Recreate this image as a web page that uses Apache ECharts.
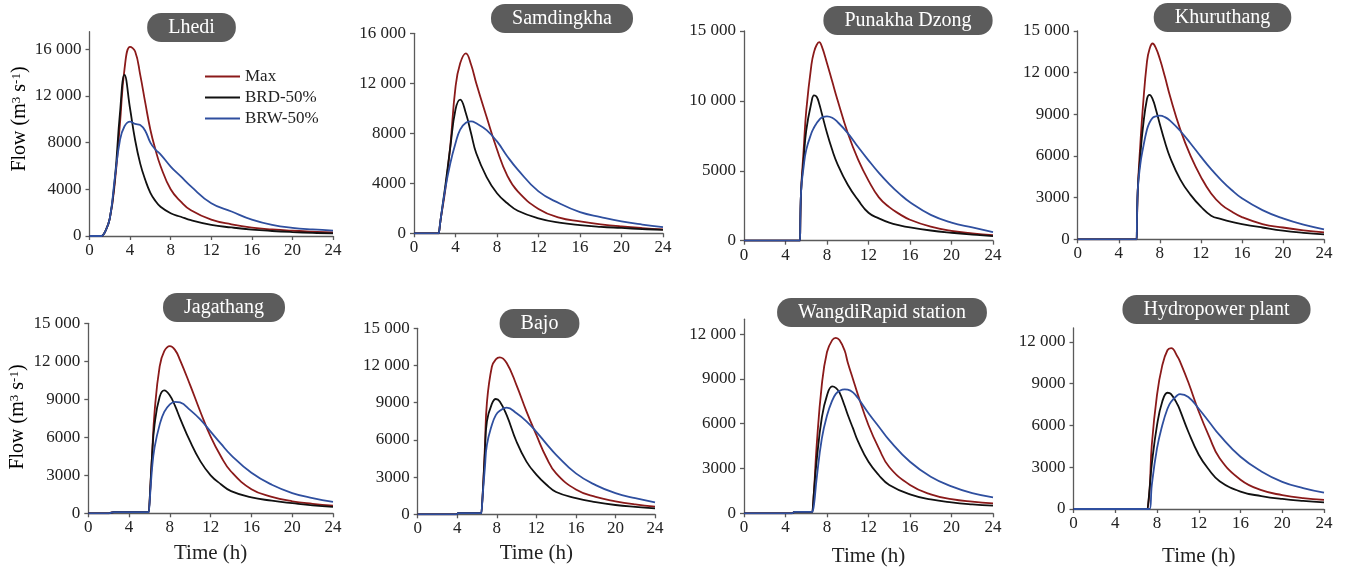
<!DOCTYPE html>
<html>
<head>
<meta charset="utf-8">
<script src="https://cdn.jsdelivr.net/npm/echarts@6/dist/echarts.min.js"></script>
<style>
html,body{margin:0;padding:0;background:#fff;}
#chart{width:1346px;height:570px;}
</style>
</head>
<body>
<div id="chart"></div>
<script>
// ---------- DATA ----------
const stations = ['Lhedi','Samdingkha','Punakha Dzong','Khuruthang','Jagathang','Bajo','WangdiRapid station','Hydropower plant'];
const seriesNames = ['Max','BRD-50%','BRW-50%'];
const xTicks = [0,4,8,12,16,20,24];

// Lhedi
const tLhedi   = [0,1,1.2,1.5,2,2.5,3,3.45,4,4.5,5,5.5,6,6.5,7,8,9,10,12,14,16,18,20,22,24];
const maxLhedi = [0,0,0,300,1500,4600,9600,14300,16200,15800,13800,11400,9100,7400,6000,4000,2950,2200,1400,1000,720,560,450,370,300];
const brdLhedi = [0,0,0,300,1500,4900,10500,13800,10900,8200,6200,4800,3700,3000,2500,1950,1650,1350,950,730,550,430,340,270,220];
const brwLhedi = [0,0,0,300,1500,5000,8200,9400,9800,9600,9500,9000,8000,7400,7000,5950,5100,4250,2800,2100,1400,950,700,560,460];

// Samdingkha
const tSam   = [0,2.4,2.45,2.55,3,3.5,4,4.45,5,5.5,6,7,8,9,10,12,14,16,18,20,22,24];
const maxSam = [0,0,0,1000,3400,7000,11700,13600,14400,13500,12000,9300,6700,4600,3350,1950,1250,950,720,550,420,320];
const brdSam = [0,0,0,1000,3700,6900,9900,10700,9600,8000,6400,4500,3200,2400,1800,1200,850,650,520,430,340,270];
const brwSam = [0,0,0,1000,3500,5600,7200,8300,8850,8950,8800,8250,7350,6150,5100,3350,2400,1700,1300,950,700,500];

// Punakha Dzong
const tPun   = [0,5.4,5.45,5.5,5.75,6,6.5,6.75,7,7.25,7.5,8,8.5,9,10,11,12,13,14,15,16,18,20,22,24];
const maxPun = [0,0,0,3500,6500,9300,12600,13500,14000,14200,13900,12700,11400,10100,7700,5800,4300,3100,2400,1900,1500,1000,700,520,400];
const brdPun = [0,0,0,3500,5800,7900,9900,10400,10300,9800,9100,7700,6500,5500,4000,2900,2000,1600,1300,1100,950,730,570,440,330];
const brwPun = [0,0,0,3500,5300,6500,7700,8100,8400,8650,8800,8900,8800,8500,7700,6700,5750,4850,4050,3350,2750,1850,1300,950,620];

// Khuruthang
const tKhu   = [0,5.75,5.8,5.85,6.1,6.35,6.75,7,7.3,7.6,8,8.5,9,10,11,12,13,14,15,16,18,20,22,24];
const maxKhu = [0,0,0,3500,6800,9500,12800,13700,14100,13800,13000,11700,10300,7900,6000,4500,3300,2500,2000,1600,1100,850,650,500];
const brdKhu = [0,0,0,3500,6000,8000,10100,10400,10100,9400,8300,7000,5900,4300,3200,2350,1700,1450,1250,1100,850,620,470,360];
const brwKhu = [0,0,0,3500,5400,6500,7900,8400,8750,8850,8900,8800,8550,7800,6900,5950,5050,4250,3550,2950,2100,1500,1050,720];

// Jagathang
const tJag   = [0,2,2.5,5.95,6,6.25,6.5,7,7.45,8,8.5,9,10,11,12,13,14,16,18,20,22,24];
const maxJag = [0,0,100,100,100,4500,8000,11600,12800,13200,12900,12100,10100,8000,6050,4500,3300,1900,1300,950,750,600];
const brdJag = [0,0,100,100,100,4500,7000,9200,9700,9300,8500,7500,5650,4100,3000,2300,1750,1250,1000,800,620,500];
const brwJag = [0,0,100,100,100,3500,5200,7000,8000,8600,8800,8750,8150,7400,6450,5500,4600,3200,2250,1600,1200,900];

// Bajo
const tBajo   = [0,3.9,4.1,6.45,6.5,6.6,6.8,7,7.5,7.9,8.3,9,10,11,12,13,14,16,18,20,22,24];
const maxBajo = [0,0,100,100,100,2000,5500,9000,11900,12500,12650,12200,10400,8300,6400,4600,3300,2000,1400,1050,800,620];
const brdBajo = [0,0,100,100,100,2000,5000,7500,8900,9300,9100,8000,5850,4250,3200,2400,1800,1300,980,750,600,480];
const brwBajo = [0,0,100,100,100,1800,3800,5600,7200,8000,8350,8600,8150,7500,6650,5700,4800,3300,2350,1700,1300,970];

// WangdiRapid station
const tWan   = [0,4.6,4.9,6.6,6.65,6.75,7,7.5,8,8.5,8.85,9.2,9.7,10,10.5,11,12,13,14,16,18,20,22,24];
const maxWan = [0,0,100,100,100,1500,4500,8600,10800,11600,11750,11600,10900,10100,9000,7900,5900,4350,3100,1900,1270,950,780,670];
const brdWan = [0,0,100,100,100,1500,3500,6400,7900,8500,8400,8100,7200,6600,5700,4800,3450,2550,1900,1270,930,730,600,510];
const brwWan = [0,0,100,100,100,600,2300,5000,6550,7550,8000,8200,8300,8280,8100,7700,6700,5800,4900,3450,2450,1800,1350,1070];

// Hydropower plant
const tHyd   = [0,7.1,7.15,7.3,7.5,8,8.5,9,9.35,10,10.2,11,12,13,14,16,18,20,22,24];
const maxHyd = [0,0,0,1500,4600,8200,10300,11400,11550,10900,10600,9100,7000,5200,3650,2100,1350,1000,780,650];
const brdHyd = [0,0,0,1500,3200,6000,7700,8350,8250,7450,7100,5550,3900,2800,2000,1250,930,720,580,480];
const brwHyd = [0,0,0,0,1700,4350,6000,7200,7700,8200,8250,8050,7200,6250,5300,3750,2700,1950,1500,1170];

const yTicks1 = [0,4000,8000,12000,16000];
const yTicks2 = [0,4000,8000,12000,16000];
const yTicks3 = [0,5000,10000,15000];
const yTicks4 = [0,3000,6000,9000,12000,15000];
const yTicks7 = [0,3000,6000,9000,12000];

// ---------- LAYOUT ----------
const FONT = 'Liberation Serif';
const panels = [
  {t:tLhedi, s:[maxLhedi,brdLhedi,brwLhedi], left:89.5, top:31.7, width:243.5, height:204.3, max:17500, ticks:yTicks1, tx:191.5, ty:13},
  {t:tSam,   s:[maxSam,brdSam,brwSam],       left:414,  top:33.3, width:249,   height:200,   max:16000, ticks:yTicks2, tx:562,   ty:4},
  {t:tPun,   s:[maxPun,brdPun,brwPun],       left:744,  top:31,   width:249,   height:209.7, max:15000, ticks:yTicks3, tx:908,   ty:6},
  {t:tKhu,   s:[maxKhu,brdKhu,brwKhu],       left:1077.7,top:31,  width:246.3, height:208.3, max:15000, ticks:yTicks4, tx:1222.5,ty:3},
  {t:tJag,   s:[maxJag,brdJag,brwJag],       left:88.3, top:323.3,width:244.7, height:190,   max:15000, ticks:yTicks4, tx:224,   ty:293, gap:30},
  {t:tBajo,  s:[maxBajo,brdBajo,brwBajo],    left:417.7,top:328.3,width:237.3, height:186,   max:15000, ticks:yTicks4, tx:539.5, ty:309, gap:29},
  {t:tWan,   s:[maxWan,brdWan,brwWan],       left:744,  top:319.2,width:249,   height:194.1, max:13000, ticks:yTicks7, tx:882,   ty:298, gap:33},
  {t:tHyd,   s:[maxHyd,brdHyd,brwHyd],       left:1073.5,top:328, width:250.5, height:181,   max:13000, ticks:yTicks7, tx:1216.5,ty:295, gap:37}
];
const colors = ['#8b1a1a','#111111','#2f4f9f'];
const axisColor = '#5a5a5a';
const TITLE_PAD = 21;

function fmt(v){
  const s = String(v);
  return s.length > 4 ? s.slice(0, s.length-3) + ' ' + s.slice(-3) : s;
}

const grid = [], xAxis = [], yAxis = [], series = [], title = [];
panels.forEach((p, i) => {
  grid.push({left:p.left, top:p.top, width:p.width, height:p.height, containLabel:false});
  xAxis.push({
    type:'value', gridIndex:i, min:0, max:24, interval:4,
    axisLine:{show:true, lineStyle:{color:axisColor, width:1.3}},
    axisTick:{show:true, length:4, lineStyle:{color:axisColor, width:1.3}},
    axisLabel:{fontFamily:FONT, fontSize:17, color:'#222', margin:6, customValues:xTicks},
    splitLine:{show:false},
    name: p.gap ? 'Time (h)' : '',
    nameLocation:'middle', nameGap: p.gap || 0,
    nameTextStyle:{fontFamily:FONT, fontSize:21, color:'#222'}
  });
  yAxis.push({
    type:'value', gridIndex:i, min:0, max:p.max,
    axisLine:{show:true, lineStyle:{color:axisColor, width:1.3}},
    axisTick:{show:true, length:4, lineStyle:{color:axisColor, width:1.3}, customValues:p.ticks},
    axisLabel:{fontFamily:FONT, fontSize:17, color:'#222', margin:8, customValues:p.ticks, formatter:fmt},
    splitLine:{show:false}
  });
  title.push({
    text: stations[i], left:p.tx - TITLE_PAD, top:p.ty, textAlign:'center',
    backgroundColor:'#5c5c5c', borderRadius:14, padding:[4,TITLE_PAD,4,TITLE_PAD],
    textStyle:{color:'#ffffff', fontFamily:FONT, fontSize:20, fontWeight:'normal', lineHeight:21}
  });
  p.s.forEach((vals, k) => {
    series.push({
      type:'line', name:seriesNames[k], xAxisIndex:i, yAxisIndex:i,
      data: p.t.map((tt, j) => [tt, vals[j]]),
      symbol:'none', smooth:0.45,
      lineStyle:{color:colors[k], width:1.8}, itemStyle:{color:colors[k]},
      silent:true, animation:false
    });
  });
});

const yName = '{a|Flow (m}{s|3}{a| s}{s|-1}{a|)}';
const yRich = {a:{fontFamily:FONT, fontSize:20, color:'#222'}, s:{fontFamily:FONT, fontSize:13, color:'#222', verticalAlign:'top'}};

const chart = echarts.init(document.getElementById('chart'), null, {renderer:'canvas'});
chart.setOption({
  animation:false,
  backgroundColor:'#ffffff',
  title: title,
  legend:{
    data: seriesNames.map((n, k) => ({name:n, icon:'rect', itemStyle:{color:colors[k]}})),
    orient:'vertical', left:205, top:68, padding:0,
    itemWidth:35, itemHeight:2, itemGap:4,
    textStyle:{fontFamily:FONT, fontSize:17, color:'#222'},
    selectedMode:false
  },
  grid: grid, xAxis: xAxis, yAxis: yAxis, series: series,
  graphic:[
    {type:'text', x:20, y:119, rotation:Math.PI/2, style:{text:yName, rich:yRich, align:'center', verticalAlign:'middle'}},
    {type:'text', x:18, y:417, rotation:Math.PI/2, style:{text:yName, rich:yRich, align:'center', verticalAlign:'middle'}}
  ]
});
</script>
</body>
</html>
